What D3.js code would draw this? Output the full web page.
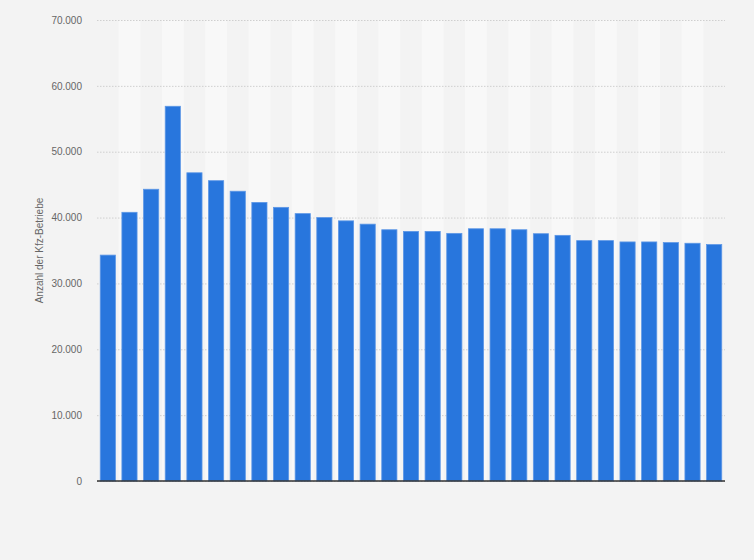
<!DOCTYPE html>
<html>
<head>
<meta charset="utf-8">
<script src="https://cdn.jsdelivr.net/npm/d3@7"></script>
<style>
  html, body { margin: 0; padding: 0; background: #f3f3f3; }
  svg { display: block; font-family: "Liberation Sans", Arial, sans-serif; }
</style>
</head>
<body>
<div id="chart"></div>
<script>
// years (x labels are not shown in the picture)
const years = d3.range(1991, 2020).map(String);

// number of workshops
const betriebe = [
  34300, 40800, 44300, 56900, 46800, 45600, 44000, 42300, 41550, 40600,
  40000, 39500, 39000, 38150, 37900, 37900, 37600, 38300, 38300, 38150,
  37550, 37300, 36500, 36500, 36300, 36300, 36200, 36100, 35900
];

const yTicks = [0, 10000, 20000, 30000, 40000, 50000, 60000, 70000];
const yLabel = "Anzahl der Kfz-Betriebe";

const width = 754, height = 560;
const margin = { top: 20, right: 29, bottom: 79, left: 97 };

const svg = d3.select("#chart").append("svg")
  .attr("width", width)
  .attr("height", height);

const x = d3.scaleBand()
  .domain(years)
  .range([margin.left, width - margin.right])
  .paddingInner(0.3)
  .paddingOuter(0.15);

const y = d3.scaleLinear()
  .domain([0, 70000])
  .range([height - margin.bottom, margin.top]);

const fmt = d3.formatLocale({ decimal: ",", thousands: ".", grouping: [3], currency: ["", "€"] }).format(",");

// alternating column bands
const step = x.step();
svg.append("g")
  .selectAll("rect")
  .data(years.filter((d, i) => i % 2 === 1))
  .join("rect")
  .attr("x", d => x(d) - step * x.paddingInner() / 2)
  .attr("y", margin.top)
  .attr("width", step)
  .attr("height", y(0) - margin.top)
  .attr("fill", "#f8f8f8");

// grid + tick labels
const yAxis = svg.append("g")
  .attr("transform", `translate(${margin.left},0)`)
  .call(d3.axisLeft(y)
    .tickValues(yTicks)
    .tickSize(-(width - margin.left - margin.right))
    .tickPadding(15)
    .tickFormat(fmt));

yAxis.select(".domain").remove();
yAxis.selectAll(".tick line")
  .attr("stroke", "#cfcfcf")
  .attr("stroke-dasharray", "1.5,1.5");
yAxis.selectAll(".tick text")
  .attr("fill", "#666")
  .attr("font-size", "10px");

// bars
svg.append("g")
  .selectAll("rect")
  .data(betriebe)
  .join("rect")
  .attr("x", (d, i) => x(years[i]))
  .attr("y", d => y(d))
  .attr("width", x.bandwidth())
  .attr("height", d => y(0) - y(d))
  .attr("fill", "#2876dd")
  .attr("stroke", "#5d97e6")
  .attr("stroke-width", 0.8);

// base line
svg.append("line")
  .attr("x1", margin.left)
  .attr("x2", width - margin.right)
  .attr("y1", y(0))
  .attr("y2", y(0))
  .attr("stroke", "#333")
  .attr("stroke-width", 1.3);

// y axis title
svg.append("text")
  .attr("transform", `translate(43,${(margin.top + y(0)) / 2}) rotate(-90)`)
  .attr("text-anchor", "middle")
  .attr("fill", "#666")
  .attr("font-size", "10px")
  .text(yLabel);
</script>
</body>
</html>
